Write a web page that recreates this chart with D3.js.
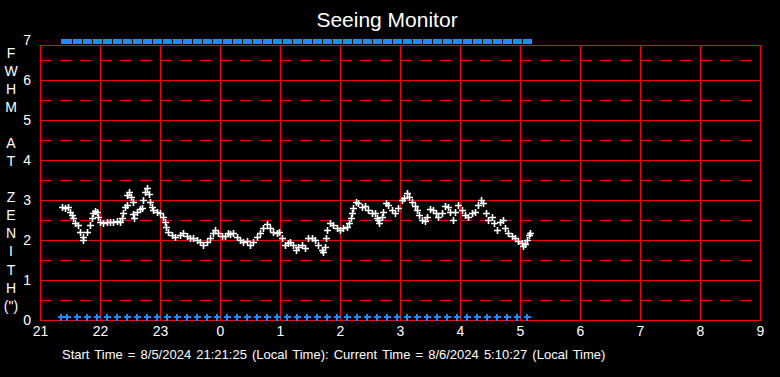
<!DOCTYPE html>
<html>
<head>
<meta charset="utf-8">
<script src="https://cdn.jsdelivr.net/npm/d3@7"></script>
<style>
  body { margin: 0; background: #000; }
  text { font-family: "Liberation Sans", Arial, sans-serif; fill: #fff; }
</style>
</head>
<body>
<div id="chart-area"></div>
<script>
const canvas_width = 780;
const canvas_height = 377;

// minutes after 21:00 local time
const sampleMinutes = [21.7, 25, 28.3, 30, 31.7, 33.3, 35, 38.3, 40, 42.7, 43.3, 46.7, 50, 51.7, 53.3, 55, 56.7, 58.3,
    60, 63.3, 66.7, 70, 73.3, 76.7, 80, 81.7, 83.3, 85, 86.7, 87.3, 89.3, 90.7, 92.7, 93.3, 94.3, 96.7, 100, 101.7,
    103.3, 105, 106.7, 109.3, 110, 111.7, 113.3, 116.7, 120, 122.7, 125, 126, 128.3, 131.7, 135, 140, 143.3, 146.7,
    150, 153.3, 156.7, 160, 163.3, 166.7, 170, 173.3, 175, 178.3, 181.7, 185, 188.3, 190, 193.3, 196.7, 200, 203.3,
    206.7, 210, 213.3, 216.7, 220, 223.3, 226.7, 230, 233.3, 236.7, 239.3, 241.7, 245, 248.3, 250, 253.3, 256, 258.3,
    261.7, 265, 268.3, 271.7, 275, 278.3, 281.7, 283.3, 285, 286, 287.3, 290, 293.3, 296.7, 300, 303.3, 306.7, 309.3,
    311, 311.7, 313.3, 316, 318.3, 321.7, 325, 328.3, 331.7, 335, 336.7, 338.3, 339.3, 341.7, 343.3, 346, 348.3,
    351.7, 355, 358.3, 361.7, 364.3, 366.7, 369.3, 371.7, 375, 377.3, 379.3, 381.7, 385, 387.3, 390, 392.7, 396,
    398.3, 401.7, 405, 408.3, 410, 412.7, 415, 418.3, 421.7, 425, 428.3, 431.7, 435, 438.3, 440.7, 443.3, 446, 448.3,
    451.7, 454, 456.7, 460, 462.7, 465, 468.3, 471.7, 475, 478.3, 481.7, 483.3, 485, 486.7, 489, 490];
const fwhm = [2.83, 2.79, 2.82, 2.71, 2.63, 2.54, 2.43, 2.38, 2.21, 2.08, 2.00, 2.21, 2.38, 2.55, 2.67, 2.73, 2.71, 2.58,
    2.46, 2.42, 2.44, 2.46, 2.46, 2.48, 2.46, 2.54, 2.67, 2.83, 2.88, 3.13, 3.21, 3.08, 2.94, 2.65, 2.54, 2.71, 2.77, 2.79,
    3.00, 3.21, 3.29, 3.15, 2.96, 2.83, 2.75, 2.71, 2.67, 2.58, 2.46, 2.33, 2.21, 2.13, 2.08, 2.13, 2.17, 2.10,
    2.06, 2.04, 2.00, 1.96, 1.88, 1.96, 2.04, 2.17, 2.25, 2.17, 2.10, 2.10, 2.17, 2.15, 2.17, 2.08, 2.00, 1.96,
    1.98, 1.88, 1.96, 2.08, 2.17, 2.29, 2.39, 2.29, 2.21, 2.17, 2.21, 2.04, 1.88, 1.92, 1.96, 1.88, 1.75, 1.83,
    1.88, 1.79, 2.04, 2.04, 2.00, 1.88, 1.75, 1.71, 1.83, 2.04, 2.25, 2.42, 2.38, 2.29, 2.25, 2.29, 2.33, 2.43,
    2.54, 2.67, 2.79, 2.96, 2.92, 2.83, 2.85, 2.75, 2.68, 2.68, 2.54, 2.50, 2.42, 2.58, 2.71, 2.92, 2.88,
    2.75, 2.67, 2.79, 3.00, 3.04, 3.18, 3.08, 2.94, 2.85, 2.75, 2.63, 2.50, 2.48, 2.58, 2.77, 2.75, 2.67,
    2.58, 2.67, 2.85, 2.83, 2.71, 2.50, 2.71, 2.88, 2.75, 2.63, 2.58, 2.67, 2.71, 2.88, 3.00, 2.92, 2.67, 2.50,
    2.58, 2.42, 2.25, 2.46, 2.50, 2.29, 2.17, 2.10, 2.04, 1.98, 1.93, 1.85, 1.90, 2.00, 2.13, 2.18];

// status markers (minutes after 21:00)
const statusMinutes = [21.4, 27, 37, 47, 57, 67, 77, 87, 97, 107, 117, 127, 137, 147, 157, 167, 177, 187, 197, 207,
    217, 227, 237, 247, 257, 267, 277, 287, 297, 307, 317, 327, 337, 347, 357, 367, 377, 387, 397, 407, 417,
    427, 437, 447, 457, 467, 477, 487];

const hourLabels = ['21', '22', '23', '0', '1', '2', '3', '4', '5', '6', '7', '8', '9'];
const yTicks = [0, 1, 2, 3, 4, 5, 6, 7];
const yHalfTicks = [0.5, 1.5, 2.5, 3.5, 4.5, 5.5, 6.5];
const yLabelLetters = ['F', 'W', 'H', 'M', '', 'A', 'T', '', 'Z', 'E', 'N', 'I', 'T', 'H', '(")'];

const titleText = 'Seeing Monitor';
const footerText = 'Start Time = 8/5/2024 21:21:25 (Local Time): Current Time = 8/6/2024 5:10:27 (Local Time)';

const plotLeft = 40, plotRight = 760, plotBottom = 320, plotTop = 40, frameTop = 45;

let canvas = d3.select('#chart-area').append('svg')
    .attr('width', canvas_width)
    .attr('height', canvas_height)
    .style('background', '#000');

let x = d3.scaleLinear().domain([0, 720]).range([plotLeft, plotRight]);
let y = d3.scaleLinear().domain([0, 7]).range([plotBottom, plotTop]);
let hourScale = d3.scalePoint().domain(hourLabels).range([plotLeft, plotRight]);

// grid
let grid = canvas.append('g').attr('shape-rendering', 'crispEdges');

grid.selectAll('line.half').data(yHalfTicks).enter().append('line')
    .attr('class', 'half')
    .attr('x1', plotLeft).attr('x2', plotRight)
    .attr('y1', (d) => y(d)).attr('y2', (d) => y(d))
    .attr('stroke', '#ff0000')
    .attr('stroke-dasharray', '12,8');

grid.selectAll('line.whole').data(yTicks.filter((d) => d > 0 && d < 7)).enter().append('line')
    .attr('class', 'whole')
    .attr('x1', plotLeft).attr('x2', plotRight)
    .attr('y1', (d) => y(d)).attr('y2', (d) => y(d))
    .attr('stroke', '#ff0000');

grid.selectAll('line.hour').data(hourLabels).enter().append('line')
    .attr('class', 'hour')
    .attr('x1', (d) => hourScale(d)).attr('x2', (d) => hourScale(d))
    .attr('y1', frameTop).attr('y2', plotBottom)
    .attr('stroke', '#ff0000');

grid.append('rect')
    .attr('x', plotLeft).attr('y', frameTop)
    .attr('width', plotRight - plotLeft).attr('height', plotBottom - frameTop)
    .attr('fill', 'none')
    .attr('stroke', '#ff0000');

// axes (labels only)
let bottomAxis = d3.axisBottom(hourScale).tickSize(0).tickPadding(6);
canvas.append('g')
    .attr('transform', `translate(0, ${plotBottom})`)
    .call(bottomAxis)
    .call((g) => g.select('.domain').remove())
    .selectAll('text')
        .attr('font-size', '14px')
        .attr('fill', '#fff');

let leftAxis = d3.axisLeft(y).tickValues(yTicks).tickSize(0).tickPadding(6).tickFormat(d3.format('d'));
canvas.append('g')
    .attr('transform', `translate(${plotLeft - 3}, 0)`)
    .call(leftAxis)
    .call((g) => g.select('.domain').remove())
    .selectAll('text')
        .attr('font-size', '14px')
        .attr('fill', '#fff');

canvas.selectAll('.tick text').style('font-family', '"Liberation Sans", Arial, sans-serif');

// vertical axis title
canvas.append('g').selectAll('text').data(yLabelLetters).enter().append('text')
    .attr('x', 11)
    .attr('y', (d, i) => 53 + i * 18.05)
    .attr('dy', '0.35em')
    .attr('text-anchor', 'middle')
    .attr('font-size', '14px')
    .text((d) => d);

// status markers
let blue = '#1e8cff';
let statusTop = canvas.append('g').attr('shape-rendering', 'crispEdges');
statusTop.selectAll('rect').data(statusMinutes).enter().append('rect')
    .attr('x', (d, i) => i === 0 ? x(d) : x(d) - 4.5)
    .attr('y', y(7) - 1)
    .attr('width', (d, i) => i === 0 ? 1.5 : 9)
    .attr('height', 5)
    .attr('fill', blue);

let statusBottom = canvas.append('g').attr('shape-rendering', 'crispEdges');
statusBottom.selectAll('path').data(statusMinutes).enter().append('path')
    .attr('d', (d) => {
        let cx = Math.round(x(d)), cy = y(0) - 3;
        return `M${cx - 3},${cy}H${cx + 4}M${cx},${cy - 3}V${cy + 4}`;
    })
    .attr('stroke', blue)
    .attr('stroke-width', 1.6)
    .attr('fill', 'none');

// FWHM samples
let samples = sampleMinutes.map((m, i) => ({ m: m, v: fwhm[i] }));
canvas.append('g').selectAll('path').data(samples).enter().append('path')
    .attr('d', (d) => {
        let cx = Math.round(x(d.m)) + 0.5, cy = Math.round(y(d.v)) + 0.5;
        return `M${cx - 3.5},${cy}H${cx + 3.5}M${cx},${cy - 3.5}V${cy + 3.5}`;
    })
    .attr('stroke', '#fff')
    .attr('stroke-width', 1.6)
    .attr('fill', 'none');

// title and footer
canvas.append('text')
    .attr('x', 387)
    .attr('y', 27)
    .attr('text-anchor', 'middle')
    .attr('font-size', '21px')
    .text(titleText);

canvas.append('text')
    .attr('x', 62)
    .attr('y', 359)
    .attr('font-size', '13px')
    .attr('word-spacing', '1.5px')
    .text(footerText);
</script>
</body>
</html>
